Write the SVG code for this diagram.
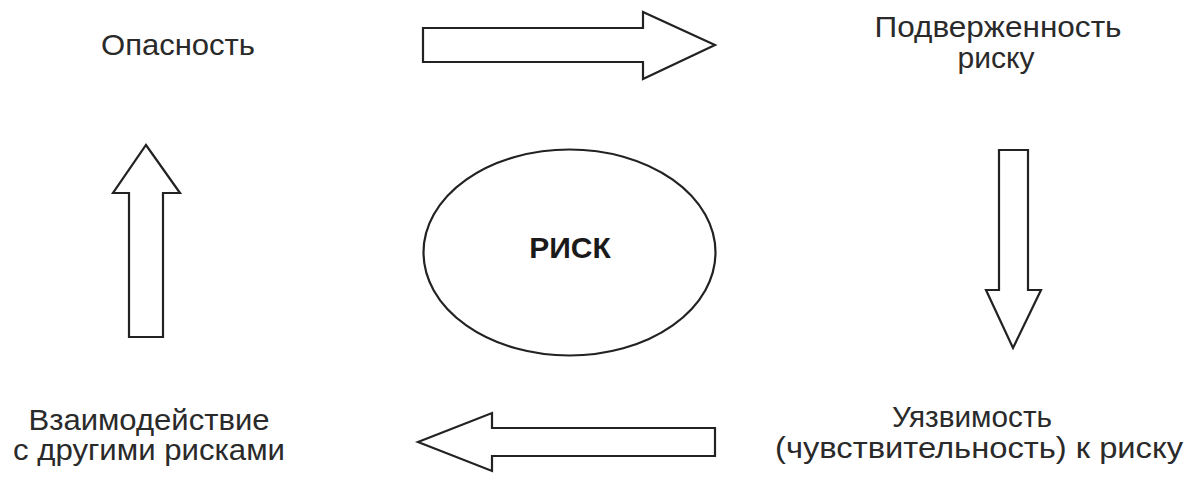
<svg xmlns="http://www.w3.org/2000/svg" width="1189" height="480" viewBox="0 0 1189 480">
<style>
.lbl{font-family:"Liberation Sans",Arial,sans-serif;font-size:29px;fill:#2a2a2a;text-anchor:middle}
.shape{fill:#fff;stroke:#222;stroke-width:2.2;stroke-linejoin:miter}
.bold{font-weight:bold;font-size:30px;fill:#1a1a1a}
</style>
<rect width="1189" height="480" fill="#fff"/>
<g id="node-hazard"><text class="lbl" x="178" y="55" textLength="154" lengthAdjust="spacingAndGlyphs">Опасность</text></g>
<g id="node-exposure"><text class="lbl" x="998" y="37" textLength="247" lengthAdjust="spacingAndGlyphs">Подверженность</text><text class="lbl" x="996" y="68" textLength="77" lengthAdjust="spacingAndGlyphs">риску</text></g>
<g id="node-vulnerability"><text class="lbl" x="972" y="427" textLength="160" lengthAdjust="spacingAndGlyphs">Уязвимость</text><text class="lbl" x="979" y="458" textLength="408" lengthAdjust="spacingAndGlyphs">(чувствительность) к риску</text></g>
<g id="node-interaction"><text class="lbl" x="149" y="430" textLength="241" lengthAdjust="spacingAndGlyphs">Взаимодействие</text><text class="lbl" x="149" y="460" textLength="272" lengthAdjust="spacingAndGlyphs">с другими рисками</text></g>
<g id="node-risk"><ellipse class="shape" cx="569.5" cy="252.5" rx="146" ry="103"/><text class="lbl bold" x="570" y="258">РИСК</text></g>
<g id="connectors">
<polygon class="shape" points="423,28 643,28 643,12 715,45 643,79 643,62 423,62"/>
<polygon class="shape" points="999,150 1028,150 1028,290 1041,290 1013,348 986,290 999,290"/>
<polygon class="shape" points="715,428 492,428 492,413 418,442 492,471 492,456 715,456"/>
<polygon class="shape" points="129,337 163,337 163,193 180,193 146,145 113,193 129,193"/>
</g>
</svg>
